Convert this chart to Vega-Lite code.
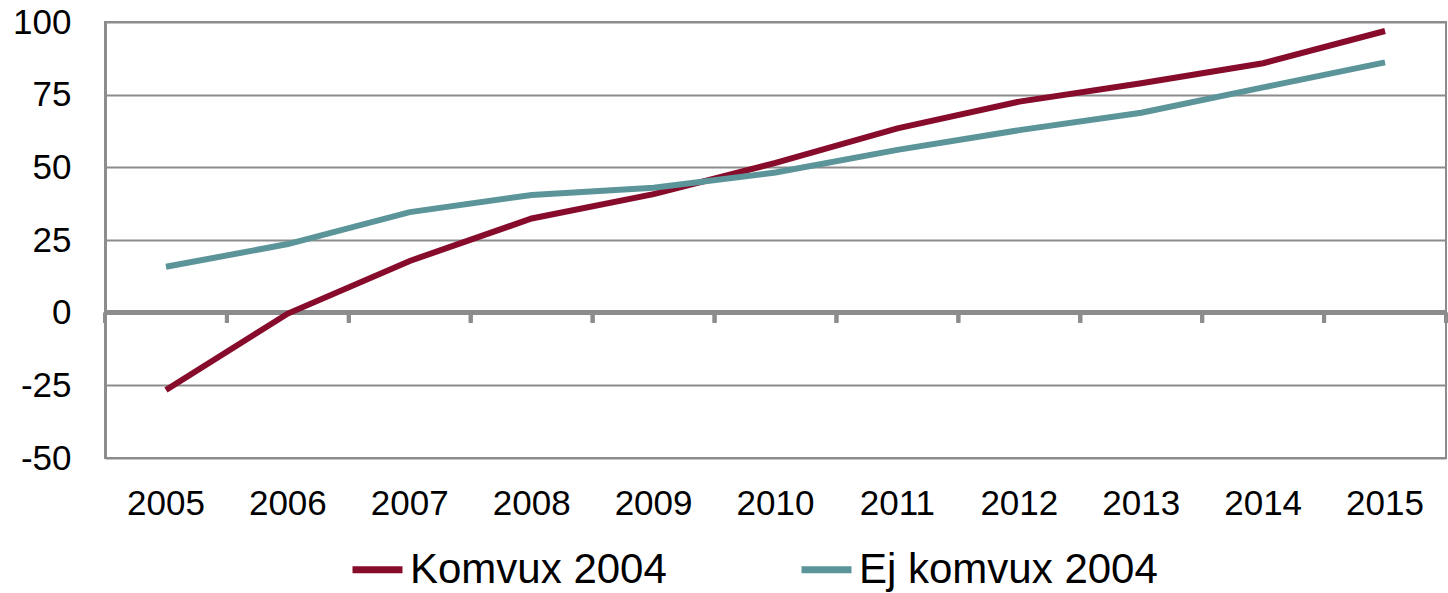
{
  "$schema": "https://vega.github.io/schema/vega-lite/v6.json",
  "autosize": {"type": "none"},
  "width": 1341,
  "height": 436,
  "padding": {"left": 105, "top": 22, "right": 2, "bottom": 135},
  "background": "white",
  "config": {
    "view": {"stroke": "#8c8c8c", "strokeWidth": 2},
    "font": "Liberation Sans"
  },
  "data": {
    "values": [
      {"year": "2005", "series": "Komvux 2004", "value": -26.6},
      {"year": "2006", "series": "Komvux 2004", "value": -0.3},
      {"year": "2007", "series": "Komvux 2004", "value": 17.8},
      {"year": "2008", "series": "Komvux 2004", "value": 32.4},
      {"year": "2009", "series": "Komvux 2004", "value": 40.8},
      {"year": "2010", "series": "Komvux 2004", "value": 51.5},
      {"year": "2011", "series": "Komvux 2004", "value": 63.4},
      {"year": "2012", "series": "Komvux 2004", "value": 72.6},
      {"year": "2013", "series": "Komvux 2004", "value": 78.9},
      {"year": "2014", "series": "Komvux 2004", "value": 85.8},
      {"year": "2015", "series": "Komvux 2004", "value": 96.9},
      {"year": "2005", "series": "Ej komvux 2004", "value": 15.8},
      {"year": "2006", "series": "Ej komvux 2004", "value": 23.6},
      {"year": "2007", "series": "Ej komvux 2004", "value": 34.6},
      {"year": "2008", "series": "Ej komvux 2004", "value": 40.5},
      {"year": "2009", "series": "Ej komvux 2004", "value": 43.0},
      {"year": "2010", "series": "Ej komvux 2004", "value": 48.2},
      {"year": "2011", "series": "Ej komvux 2004", "value": 56.0},
      {"year": "2012", "series": "Ej komvux 2004", "value": 62.8},
      {"year": "2013", "series": "Ej komvux 2004", "value": 68.8},
      {"year": "2014", "series": "Ej komvux 2004", "value": 77.5},
      {"year": "2015", "series": "Ej komvux 2004", "value": 86.1}
    ]
  },
  "layer": [
    {
      "mark": {"type": "rule", "stroke": "#8c8c8c", "strokeWidth": 4},
      "encoding": {
        "y": {"datum": 0, "type": "quantitative"}
      }
    },
    {
      "mark": {"type": "rule", "stroke": "#8c8c8c", "strokeWidth": 4},
      "encoding": {
        "x": {"field": "year", "type": "ordinal", "bandPosition": 0, "title": null},
        "y": {"datum": 0, "type": "quantitative"},
        "y2": {"datum": -3.5}
      }
    },
    {
      "transform": [{"filter": "datum.year == '2015'"}],
      "mark": {"type": "rule", "stroke": "#8c8c8c", "strokeWidth": 4},
      "encoding": {
        "x": {"field": "year", "type": "ordinal", "bandPosition": 1, "title": null},
        "y": {"datum": 0, "type": "quantitative"},
        "y2": {"datum": -3.5}
      }
    },
    {
      "mark": {"type": "line", "strokeWidth": 6},
      "encoding": {
        "x": {
          "field": "year",
          "type": "ordinal",
          "bandPosition": 0.5,
          "scale": {"type": "band", "paddingInner": 0, "paddingOuter": 0},
          "title": null,
          "axis": {
            "bandPosition": 0.5,
            "labelAngle": 0,
            "labelAlign": "center",
            "labelFontSize": 35,
            "labelColor": "black",
            "labelPadding": 45,
            "ticks": false,
            "domain": false,
            "grid": false
          }
        },
        "y": {
          "field": "value",
          "type": "quantitative",
          "title": null,
          "scale": {"domain": [-50, 100], "nice": false, "zero": false},
          "axis": {
            "values": [-50, -25, 0, 25, 50, 75, 100],
            "labelExpr": "'' + datum.value",
            "labelFontSize": 35,
            "labelColor": "black",
            "labelPadding": 34,
            "ticks": false,
            "domain": true,
            "domainColor": "#8c8c8c",
            "domainWidth": 3,
            "grid": true,
            "gridColor": "#8c8c8c",
            "gridWidth": 2,
            "gridOpacity": 1
          }
        },
        "color": {
          "field": "series",
          "type": "nominal",
          "scale": {"domain": ["Komvux 2004", "Ej komvux 2004"], "range": ["#870B2B", "#5B9599"]},
          "legend": {
            "title": null,
            "orient": "none",
            "legendX": 244,
            "legendY": 519,
            "direction": "horizontal",
            "symbolType": "stroke",
            "symbolSize": 2500,
            "symbolStrokeWidth": 7,
            "labelFontSize": 42,
            "labelColor": "black",
            "labelOffset": 4,
            "labelLimit": 0,
            "columnPadding": 120
          }
        }
      }
    }
  ]
}
